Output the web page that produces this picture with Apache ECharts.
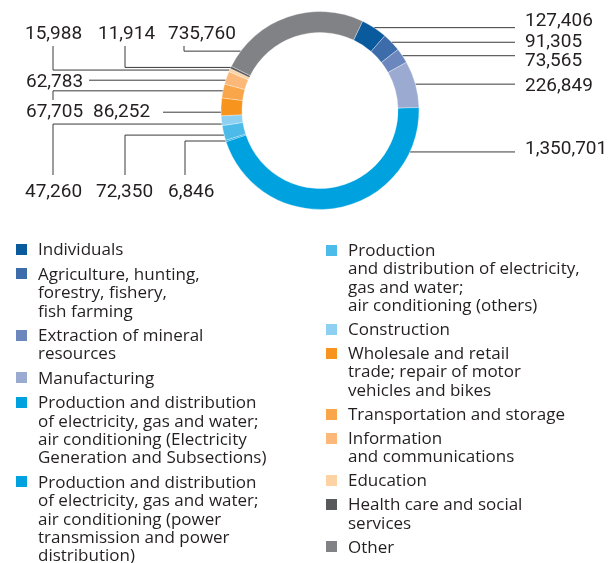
<!DOCTYPE html>
<html>
<head>
<meta charset="utf-8">
<script src="https://cdn.jsdelivr.net/npm/echarts@6/dist/echarts.min.js"></script>
<style>
  html, body { margin: 0; padding: 0; background: #fff; }
  #chart { width: 611px; height: 563px; }
</style>
</head>
<body>
<div id="chart"></div>
<script>
// Loan portfolio by sector, clockwise from the top of the ring
const categories = [
  'Individuals',
  'Agriculture, hunting, forestry, fishery, fish farming',
  'Extraction of mineral resources',
  'Manufacturing',
  'Production and distribution of electricity, gas and water; air conditioning (Electricity Generation and Subsections)',
  'Production and distribution of electricity, gas and water; air conditioning (power transmission and power distribution)',
  'Production and distribution of electricity, gas and water; air conditioning (others)',
  'Construction',
  'Wholesale and retail trade; repair of motor vehicles and bikes',
  'Transportation and storage',
  'Information and communications',
  'Education',
  'Health care and social services',
  'Other'
];

const values = [127406, 91305, 73565, 226849, 1350701, 6846, 72350, 47260, 86252, 67705, 62783, 15988, 11914, 735760];

// Legend captions, wrapped as printed
const legendLabels = [
  'Individuals',
  'Agriculture, hunting,\nforestry, fishery,\nfish farming',
  'Extraction of mineral\nresources',
  'Manufacturing',
  'Production and distribution\nof electricity, gas and water;\nair conditioning (Electricity\nGeneration and Subsections)',
  'Production and distribution\nof electricity, gas and water;\nair conditioning (power\ntransmission and power\ndistribution)',
  'Production\nand distribution of electricity,\ngas and water;\nair conditioning (others)',
  'Construction',
  'Wholesale and retail\ntrade; repair of motor\nvehicles and bikes',
  'Transportation and storage',
  'Information\nand communications',
  'Education',
  'Health care and social\nservices',
  'Other'
];

const colors = [
  '#0a5a9e', '#3d6cab', '#6b87bd', '#9aaad0', '#00a1df', '#00a1df', '#4dbbe9',
  '#8dd0f1', '#f7941d', '#f9a54a', '#fbb878', '#fdd2a5', '#58595b', '#808285'
];

// Where each value label sits and how its leader line is routed
// x/y: label left edge and vertical middle; lineX: end of the horizontal run;
// lineY: end of an optional vertical run; at: anchor position along the slice arc
const labelSpots = [
  { x: 525, y: 21.5, lineX: 515 },
  { x: 525, y: 42, lineX: 515 },
  { x: 525, y: 61, lineX: 515 },
  { x: 525, y: 86.5, lineX: 515 },
  { x: 525, y: 149.5, lineX: 515, at: 0.162 },
  { x: 168, y: 192, lineX: 185, lineY: 175 },
  { x: 96, y: 192, lineX: 125, lineY: 175, at: 0.36 },
  { x: 25, y: 192, lineX: 53, lineY: 175, at: 0.16 },
  { x: 93, y: 112, lineX: 163, at: 0.2 },
  { x: 26, y: 112, lineX: 53, lineY: 100 },
  { x: 26, y: 82, lineX: 89, at: 0.3 },
  { x: 25, y: 34.5, lineX: 53, lineY: 46 },
  { x: 98, y: 34.5, lineX: 125, lineY: 46 },
  { x: 168, y: 34.5, lineX: 184, lineY: 46, at: 0.116 }
];

const textColor = '#231f20';
const fmt = v => String(v).replace(/\B(?=(\d{3})+(?!\d))/g, ',');

const chart = echarts.init(document.getElementById('chart'), null, { renderer: 'canvas' });

// Two-column legend drawn as graphic elements so the swatch aligns with the first line
const legendColumns = [
  { x: 16, top: 250.5, gap: 6.0, items: [0, 1, 2, 3, 4, 5] },
  { x: 326, top: 251, gap: 5.6, items: [6, 7, 8, 9, 10, 11, 12, 13] }
];
const lineH = 18.4, swatch = 11;
const legendGraphics = [];
legendColumns.forEach(col => {
  let cy = col.top;
  col.items.forEach(i => {
    const lines = legendLabels[i].split('\n').length;
    legendGraphics.push({
      type: 'rect',
      shape: { x: col.x, y: Math.round(cy - swatch / 2 - 1), width: swatch, height: swatch },
      style: { fill: colors[i] },
      silent: true
    });
    legendGraphics.push({
      type: 'text',
      x: col.x + 22,
      y: cy - lineH / 2,
      style: {
        text: legendLabels[i],
        fill: textColor,
        font: '17px "Open Sans"',
        lineHeight: lineH,
        verticalAlign: 'top',
        align: 'left'
      },
      silent: true
    });
    cy += lines * lineH + col.gap;
  });
});

chart.setOption({
  animation: false,
  backgroundColor: '#ffffff',
  graphic: legendGraphics,
  series: [{
    type: 'pie',
    center: [320, 110.5],
    radius: [78, 99],
    startAngle: 64.5,
    clockwise: true,
    avoidLabelOverlap: false,
    silent: true,
    itemStyle: { borderColor: 'rgba(255,255,255,0.55)', borderWidth: 0.6 },
    data: categories.map((name, i) => ({
      name,
      value: values[i],
      itemStyle: { color: colors[i] }
    })),
    label: {
      show: true,
      position: 'outside',
      formatter: p => fmt(p.value),
      color: textColor,
      fontFamily: 'Roboto',
      fontSize: 19
    },
    labelLine: {
      show: true,
      length: 10,
      length2: 10,
      smooth: false,
      lineStyle: { color: '#3a3a3a', width: 1 }
    },
    labelLayout: function (params) {
      const spot = labelSpots[params.dataIndex];
      const lay = chart.getModel().getSeriesByIndex(0).getData().getItemLayout(params.dataIndex);
      const frac = spot.at == null ? 0.5 : spot.at;
      const a = lay.startAngle + frac * (lay.endAngle - lay.startAngle);
      const ax = lay.cx + lay.r * Math.cos(a);
      const ay = lay.cy + lay.r * Math.sin(a);
      const pts = [[ax, ay], [spot.lineX, ay]];
      if (spot.lineY != null) pts.push([spot.lineX, spot.lineY]);
      else pts.push([spot.lineX, ay]);
      return {
        x: spot.x,
        y: spot.y,
        align: 'left',
        verticalAlign: 'middle',
        labelLinePoints: pts
      };
    }
  }]
});
</script>
</body>
</html>
